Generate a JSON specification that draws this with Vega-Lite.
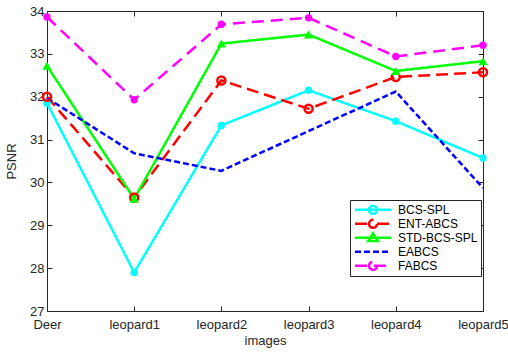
{
  "$schema": "https://vega.github.io/schema/vega-lite/v6.json",
  "width": 436,
  "height": 300,
  "padding": {"left": 5, "top": 5, "right": 0, "bottom": 5},
  "config": {
    "view": {"stroke": "#262626", "strokeWidth": 1},
    "font": "Liberation Sans",
    "axis": {"labelFont": "Liberation Sans", "titleFont": "Liberation Sans", "labelColor": "#262626", "titleColor": "#262626", "tickColor": "#262626", "labelFontSize": 13, "titleFontSize": 13, "titleFontWeight": "normal", "grid": false, "domain": false}
  },
  "data": {"values": [
    {"image": "Deer", "series": "BCS-SPL", "psnr": 31.85},
    {"image": "leopard1", "series": "BCS-SPL", "psnr": 27.9},
    {"image": "leopard2", "series": "BCS-SPL", "psnr": 31.33},
    {"image": "leopard3", "series": "BCS-SPL", "psnr": 32.15},
    {"image": "leopard4", "series": "BCS-SPL", "psnr": 31.43},
    {"image": "leopard5", "series": "BCS-SPL", "psnr": 30.57},
    {"image": "Deer", "series": "ENT-ABCS", "psnr": 32.0},
    {"image": "leopard1", "series": "ENT-ABCS", "psnr": 29.65},
    {"image": "leopard2", "series": "ENT-ABCS", "psnr": 32.38},
    {"image": "leopard3", "series": "ENT-ABCS", "psnr": 31.72},
    {"image": "leopard4", "series": "ENT-ABCS", "psnr": 32.46},
    {"image": "leopard5", "series": "ENT-ABCS", "psnr": 32.57},
    {"image": "Deer", "series": "STD-BCS-SPL", "psnr": 32.72},
    {"image": "leopard1", "series": "STD-BCS-SPL", "psnr": 29.62},
    {"image": "leopard2", "series": "STD-BCS-SPL", "psnr": 33.24},
    {"image": "leopard3", "series": "STD-BCS-SPL", "psnr": 33.45},
    {"image": "leopard4", "series": "STD-BCS-SPL", "psnr": 32.6},
    {"image": "leopard5", "series": "STD-BCS-SPL", "psnr": 32.83},
    {"image": "Deer", "series": "EABCS", "psnr": 31.97},
    {"image": "leopard1", "series": "EABCS", "psnr": 30.68},
    {"image": "leopard2", "series": "EABCS", "psnr": 30.27},
    {"image": "leopard3", "series": "EABCS", "psnr": 31.2},
    {"image": "leopard4", "series": "EABCS", "psnr": 32.12},
    {"image": "leopard5", "series": "EABCS", "psnr": 29.87},
    {"image": "Deer", "series": "FABCS", "psnr": 33.86},
    {"image": "leopard1", "series": "FABCS", "psnr": 31.93},
    {"image": "leopard2", "series": "FABCS", "psnr": 33.69},
    {"image": "leopard3", "series": "FABCS", "psnr": 33.84},
    {"image": "leopard4", "series": "FABCS", "psnr": 32.94},
    {"image": "leopard5", "series": "FABCS", "psnr": 33.2}
  ]},
  "encoding": {
    "x": {"field": "image", "type": "ordinal",
      "scale": {"type": "point", "padding": 0, "domain": ["Deer", "leopard1", "leopard2", "leopard3", "leopard4", "leopard5"]},
      "axis": null},
    "y": {"field": "psnr", "type": "quantitative",
      "scale": {"domain": [27, 34], "nice": false, "zero": false},
      "axis": null},
    "color": {"field": "series", "type": "nominal",
      "scale": {"domain": ["BCS-SPL", "ENT-ABCS", "STD-BCS-SPL", "EABCS", "FABCS"], "range": ["#00FFFF", "#FF0000", "#00FF00", "#0000FF", "#FF00FF"]},
      "legend": null}
  },
  "layer": [
    {
      "mark": {"type": "line", "strokeWidth": 2.5},
      "encoding": {
        "x": {"field": "image", "type": "ordinal",
          "axis": {"title": "images", "orient": "bottom", "labelAngle": 0, "tickSize": -5, "labelPadding": 12, "titlePadding": 3}},
        "y": {"field": "psnr", "type": "quantitative",
          "axis": {"title": "PSNR", "orient": "left", "values": [27, 28, 29, 30, 31, 32, 33, 34], "tickSize": -5, "labelPadding": 8, "titlePadding": 11}},
        "strokeDash": {"field": "series", "type": "nominal", "legend": null,
          "scale": {"domain": ["BCS-SPL", "ENT-ABCS", "STD-BCS-SPL", "EABCS", "FABCS"], "range": [[1, 0], [12, 6], [1, 0], [6, 3], [12, 7]]}}
      }
    },
    {
      "transform": [{"filter": "datum.series === 'BCS-SPL' || datum.series === 'FABCS'"}],
      "mark": {"type": "point", "shape": "circle", "filled": true, "opacity": 1, "size": 55}
    },
    {
      "transform": [{"filter": "datum.series === 'ENT-ABCS'"}],
      "mark": {"type": "point", "shape": "circle", "filled": false, "opacity": 1, "size": 65, "strokeWidth": 2.5}
    },
    {
      "transform": [{"filter": "datum.series === 'STD-BCS-SPL'"}],
      "mark": {"type": "point", "shape": "triangle-up", "filled": true, "opacity": 1, "size": 85}
    },
    {
      "transform": [{"filter": "false"}],
      "mark": {"type": "point", "filled": false, "opacity": 1, "size": 64, "strokeWidth": 2.5},
      "encoding": {
        "x": {"field": "image", "type": "ordinal", "axis": {"orient": "top", "labels": false, "title": null, "tickSize": -5}},
        "y": {"field": "psnr", "type": "quantitative", "axis": {"orient": "right", "labels": false, "title": null, "tickSize": -5, "values": [27, 28, 29, 30, 31, 32, 33, 34]}},
        "color": {"field": "series", "type": "nominal",
          "scale": {"domain": ["BCS-SPL", "ENT-ABCS", "STD-BCS-SPL", "EABCS", "FABCS"], "range": ["#00FFFF", "#FF0000", "#00FF00", "#0000FF", "#FF00FF"]},
          "legend": {
            "title": null, "orient": "none", "legendX": 303, "legendY": 189,
            "fillColor": "white", "strokeColor": "#262626", "padding": 3,
            "labelFont": "Liberation Sans", "labelFontSize": 12, "labelColor": "#000000",
            "symbolSize": 64, "symbolOffset": 14, "labelOffset": 19, "rowPadding": 0,
            "clipHeight": 13.7,
            "symbolStrokeWidth": 2.5,
            "encode": {"symbols": {
              "fill": {"condition": [
                {"test": "datum.value === 'BCS-SPL'", "value": "#00FFFF"},
                {"test": "datum.value === 'STD-BCS-SPL'", "value": "#00FF00"},
                {"test": "datum.value === 'FABCS'", "value": "#FF00FF"}
              ], "value": "white"},
              "strokeJoin": {"value": "round"},
              "strokeWidth": {"value": 2.5},
              "opacity": {"value": 1}
            }}
          }},
        "shape": {"field": "series", "type": "nominal",
          "scale": {"domain": ["BCS-SPL", "ENT-ABCS", "STD-BCS-SPL", "EABCS", "FABCS"],
            "range": [
              "M-4.5,0L4.5,0M-1,0A1,1 0 1,0 1,0A1,1 0 1,0 -1,0Z",
              "M-4.5,0L-1,0M1,0L4.5,0M-1,0A1,1 0 1,0 1,0A1,1 0 1,0 -1,0Z",
              "M-4.5,0L4.5,0M-1.2,0.8L0,-1.1L1.2,0.8Z",
              "M-4.5,0L4.5,0",
              "M-4.5,0L4.5,0M-1,0A1,1 0 1,0 1,0A1,1 0 1,0 -1,0Z"
            ]}},
        "strokeDash": {"field": "series", "type": "nominal",
          "scale": {"domain": ["BCS-SPL", "ENT-ABCS", "STD-BCS-SPL", "EABCS", "FABCS"], "range": [[1, 0], [12, 6], [1, 0], [6, 3], [12, 7]]}}
      }
    }
  ],
  "resolve": {"axis": {"x": "independent", "y": "independent"}, "scale": {"color": "independent", "strokeDash": "independent", "shape": "independent"}}
}
